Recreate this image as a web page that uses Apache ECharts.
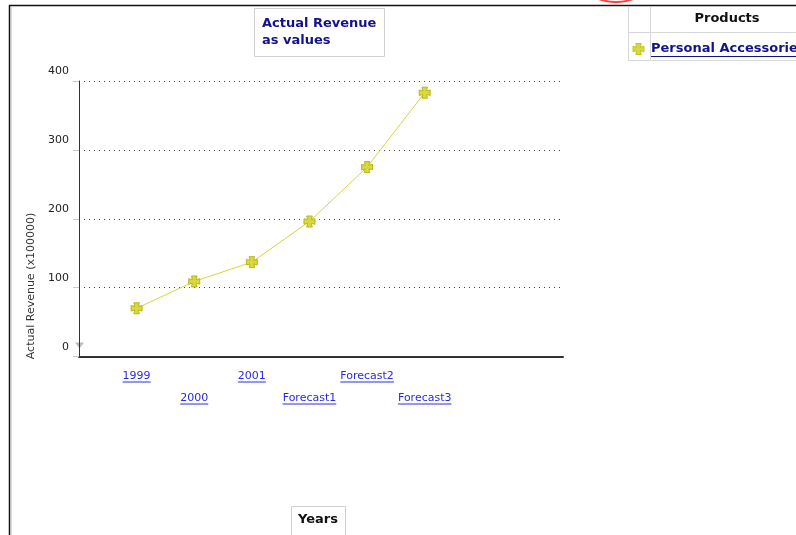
<!DOCTYPE html>
<html>
<head>
<meta charset="utf-8">
<script src="https://cdn.jsdelivr.net/npm/echarts@6/dist/echarts.min.js"></script>
<style>html,body{margin:0;padding:0;background:#fff;}#c{width:796px;height:535px;}</style>
</head>
<body>
<div id="c"></div>
<script>
const categories = ['1999', '2000', '2001', 'Forecast1', 'Forecast2', 'Forecast3'];
const revenue = [70, 109, 137, 196, 275, 383];
const yTicks = [0, 100, 200, 300, 400];
const titleLines = ['Actual Revenue', 'as values'];
const legendHeader = 'Products';
const seriesName = 'Personal Accessories';
const xAxisTitle = 'Years';
const yAxisTitle = 'Actual Revenue (x100000)';

const FONT = 'DejaVu Sans';
const LINK = '#2a2ae6';
const NAVY = '#12128c';
const crossPath = 'path://M3,0 H9 L8,4 L12,3 V9 L8,8 L9,12 H3 L4,8 L0,9 V3 L4,4 Z';
const crossPts = [[3,0],[9,0],[8,4],[12,3],[12,9],[8,8],[9,12],[3,12],[4,8],[0,9],[0,3],[4,4]];

const chart = echarts.init(document.getElementById('c'), null, {renderer: 'canvas'});

const option = {
  backgroundColor: '#fff',
  animation: false,
  grid: {left: 79, top: 81, right: 233, bottom: 178.5, containLabel: false},
  xAxis: {
    type: 'value', min: -1, max: 7.4, interval: 1,
    axisLine: {show: true, onZero: false, lineStyle: {color: '#333', width: 2}},
    axisTick: {show: false},
    splitLine: {show: false},
    axisLabel: {
      margin: 9, fontSize: 11, fontFamily: FONT, color: LINK, lineHeight: 22,
      showMinLabel: true, showMaxLabel: true,
      formatter: function (v) {
        const i = Math.round(v);
        if (Math.abs(v - i) > 1e-6 || i < 0 || i >= categories.length) return '';
        return i % 2 ? '\n' + categories[i] : categories[i];
      }
    }
  },
  yAxis: {
    type: 'value', min: yTicks[0], max: yTicks[yTicks.length - 1], interval: 100,
    axisLine: {show: true, onZero: false, lineStyle: {color: '#333', width: 1}},
    axisTick: {show: true, length: 6, lineStyle: {color: '#c8c8c8'}},
    axisLabel: {margin: 10, fontSize: 11, fontFamily: FONT, color: '#222', verticalAlign: 'bottom', padding: [0, 0, 4, 0]},
    splitLine: {show: true, lineStyle: {color: '#444', width: 1, type: [1, 4]}}
  },
  series: [{
    name: seriesName,
    type: 'line',
    data: revenue.map((v, i) => [i, v]),
    symbol: crossPath,
    symbolSize: 11,
    itemStyle: {color: '#d8d840', borderColor: '#b8b818', borderWidth: 1},
    lineStyle: {color: '#d6d640', width: 1}
  }]
};
chart.setOption(option);

// decorations
const cv = document.createElement('canvas').getContext('2d');
function tw(text, font) { cv.font = font; return cv.measureText(text).width; }
const axisY = chart.convertToPixel({yAxisIndex: 0}, 0);
const axisX = chart.convertToPixel({xAxisIndex: 0}, -1);
const g = [];
categories.forEach((c, i) => {
  const x = chart.convertToPixel({xAxisIndex: 0}, i);
  const w = tw(c, '11px ' + FONT);
  const y = axisY + (i % 2 ? 47.5 : 25.5);
  g.push({type: 'line', shape: {x1: x - w / 2, y1: y, x2: x + w / 2, y2: y}, style: {stroke: LINK, lineWidth: 1}});
});
// frame
g.push({type: 'line', shape: {x1: 9, y1: 5.5, x2: 796, y2: 5.5}, style: {stroke: '#111', lineWidth: 1.5}});
g.push({type: 'line', shape: {x1: 9.5, y1: 5, x2: 9.5, y2: 535}, style: {stroke: '#111', lineWidth: 1.5}});
g.push({type: 'line', shape: {x1: 11, y1: 7, x2: 11, y2: 535}, style: {stroke: '#bbb', lineWidth: 1}});
// red arc at top
g.push({type: 'ellipse', shape: {cx: 616, cy: -11, rx: 27, ry: 13}, style: {fill: 'none', stroke: '#f04848', lineWidth: 2}});
// title box
g.push({type: 'rect', shape: {x: 254.5, y: 8.5, width: 130, height: 48}, style: {fill: '#fff', stroke: '#d0d0d0', lineWidth: 1}});
g.push({type: 'text', style: {x: 262, y: 24, text: titleLines[0], font: 'bold 13px ' + FONT, fill: NAVY, verticalAlign: 'middle'}});
g.push({type: 'text', style: {x: 262, y: 41, text: titleLines[1], font: 'bold 13px ' + FONT, fill: NAVY, verticalAlign: 'middle'}});
// legend table
g.push({type: 'line', shape: {x1: 628.5, y1: 7, x2: 628.5, y2: 61}, style: {stroke: '#d8d8d8', lineWidth: 1}});
g.push({type: 'line', shape: {x1: 650.5, y1: 7, x2: 650.5, y2: 61}, style: {stroke: '#d8d8d8', lineWidth: 1}});
g.push({type: 'line', shape: {x1: 628, y1: 32.5, x2: 796, y2: 32.5}, style: {stroke: '#d8d8d8', lineWidth: 1}});
g.push({type: 'line', shape: {x1: 628, y1: 60.5, x2: 796, y2: 60.5}, style: {stroke: '#d8d8d8', lineWidth: 1}});
g.push({type: 'text', style: {x: 727, y: 19, text: legendHeader, font: 'bold 13px ' + FONT, fill: '#111', align: 'center', verticalAlign: 'middle'}});
g.push({type: 'polygon', shape: {points: crossPts.map(p => [p[0] * 11 / 12 + 633, p[1] * 11 / 12 + 43.5])}, style: {fill: '#d8d840', stroke: '#c4c420', lineWidth: 1}});
g.push({type: 'text', style: {x: 651, y: 49, text: seriesName, font: 'bold 13px ' + FONT, fill: NAVY, verticalAlign: 'middle'}});
g.push({type: 'line', shape: {x1: 651, y1: 56.5, x2: 651 + tw(seriesName, 'bold 13px ' + FONT), y2: 56.5}, style: {stroke: NAVY, lineWidth: 1.2}});
// x axis title box
g.push({type: 'rect', shape: {x: 291.5, y: 506.5, width: 54, height: 40}, style: {fill: '#fff', stroke: '#d0d0d0', lineWidth: 1}});
g.push({type: 'text', style: {x: 318, y: 520, text: xAxisTitle, font: 'bold 13px ' + FONT, fill: '#111', align: 'center', verticalAlign: 'middle'}});
// y axis title (rotated)
g.push({type: 'text', x: 31, y: 286, rotation: Math.PI / 2, style: {x: 0, y: 0, text: yAxisTitle, font: '11px ' + FONT, fill: '#333', align: 'center', verticalAlign: 'middle'}});
// small triangle marker at zero
g.push({type: 'polygon', shape: {points: [[axisX - 4, axisY - 14], [axisX + 5, axisY - 14], [axisX + 0.5, axisY - 8]]}, style: {fill: '#bdbdbd'}});

chart.setOption({graphic: {elements: g}});
</script>
</body>
</html>
